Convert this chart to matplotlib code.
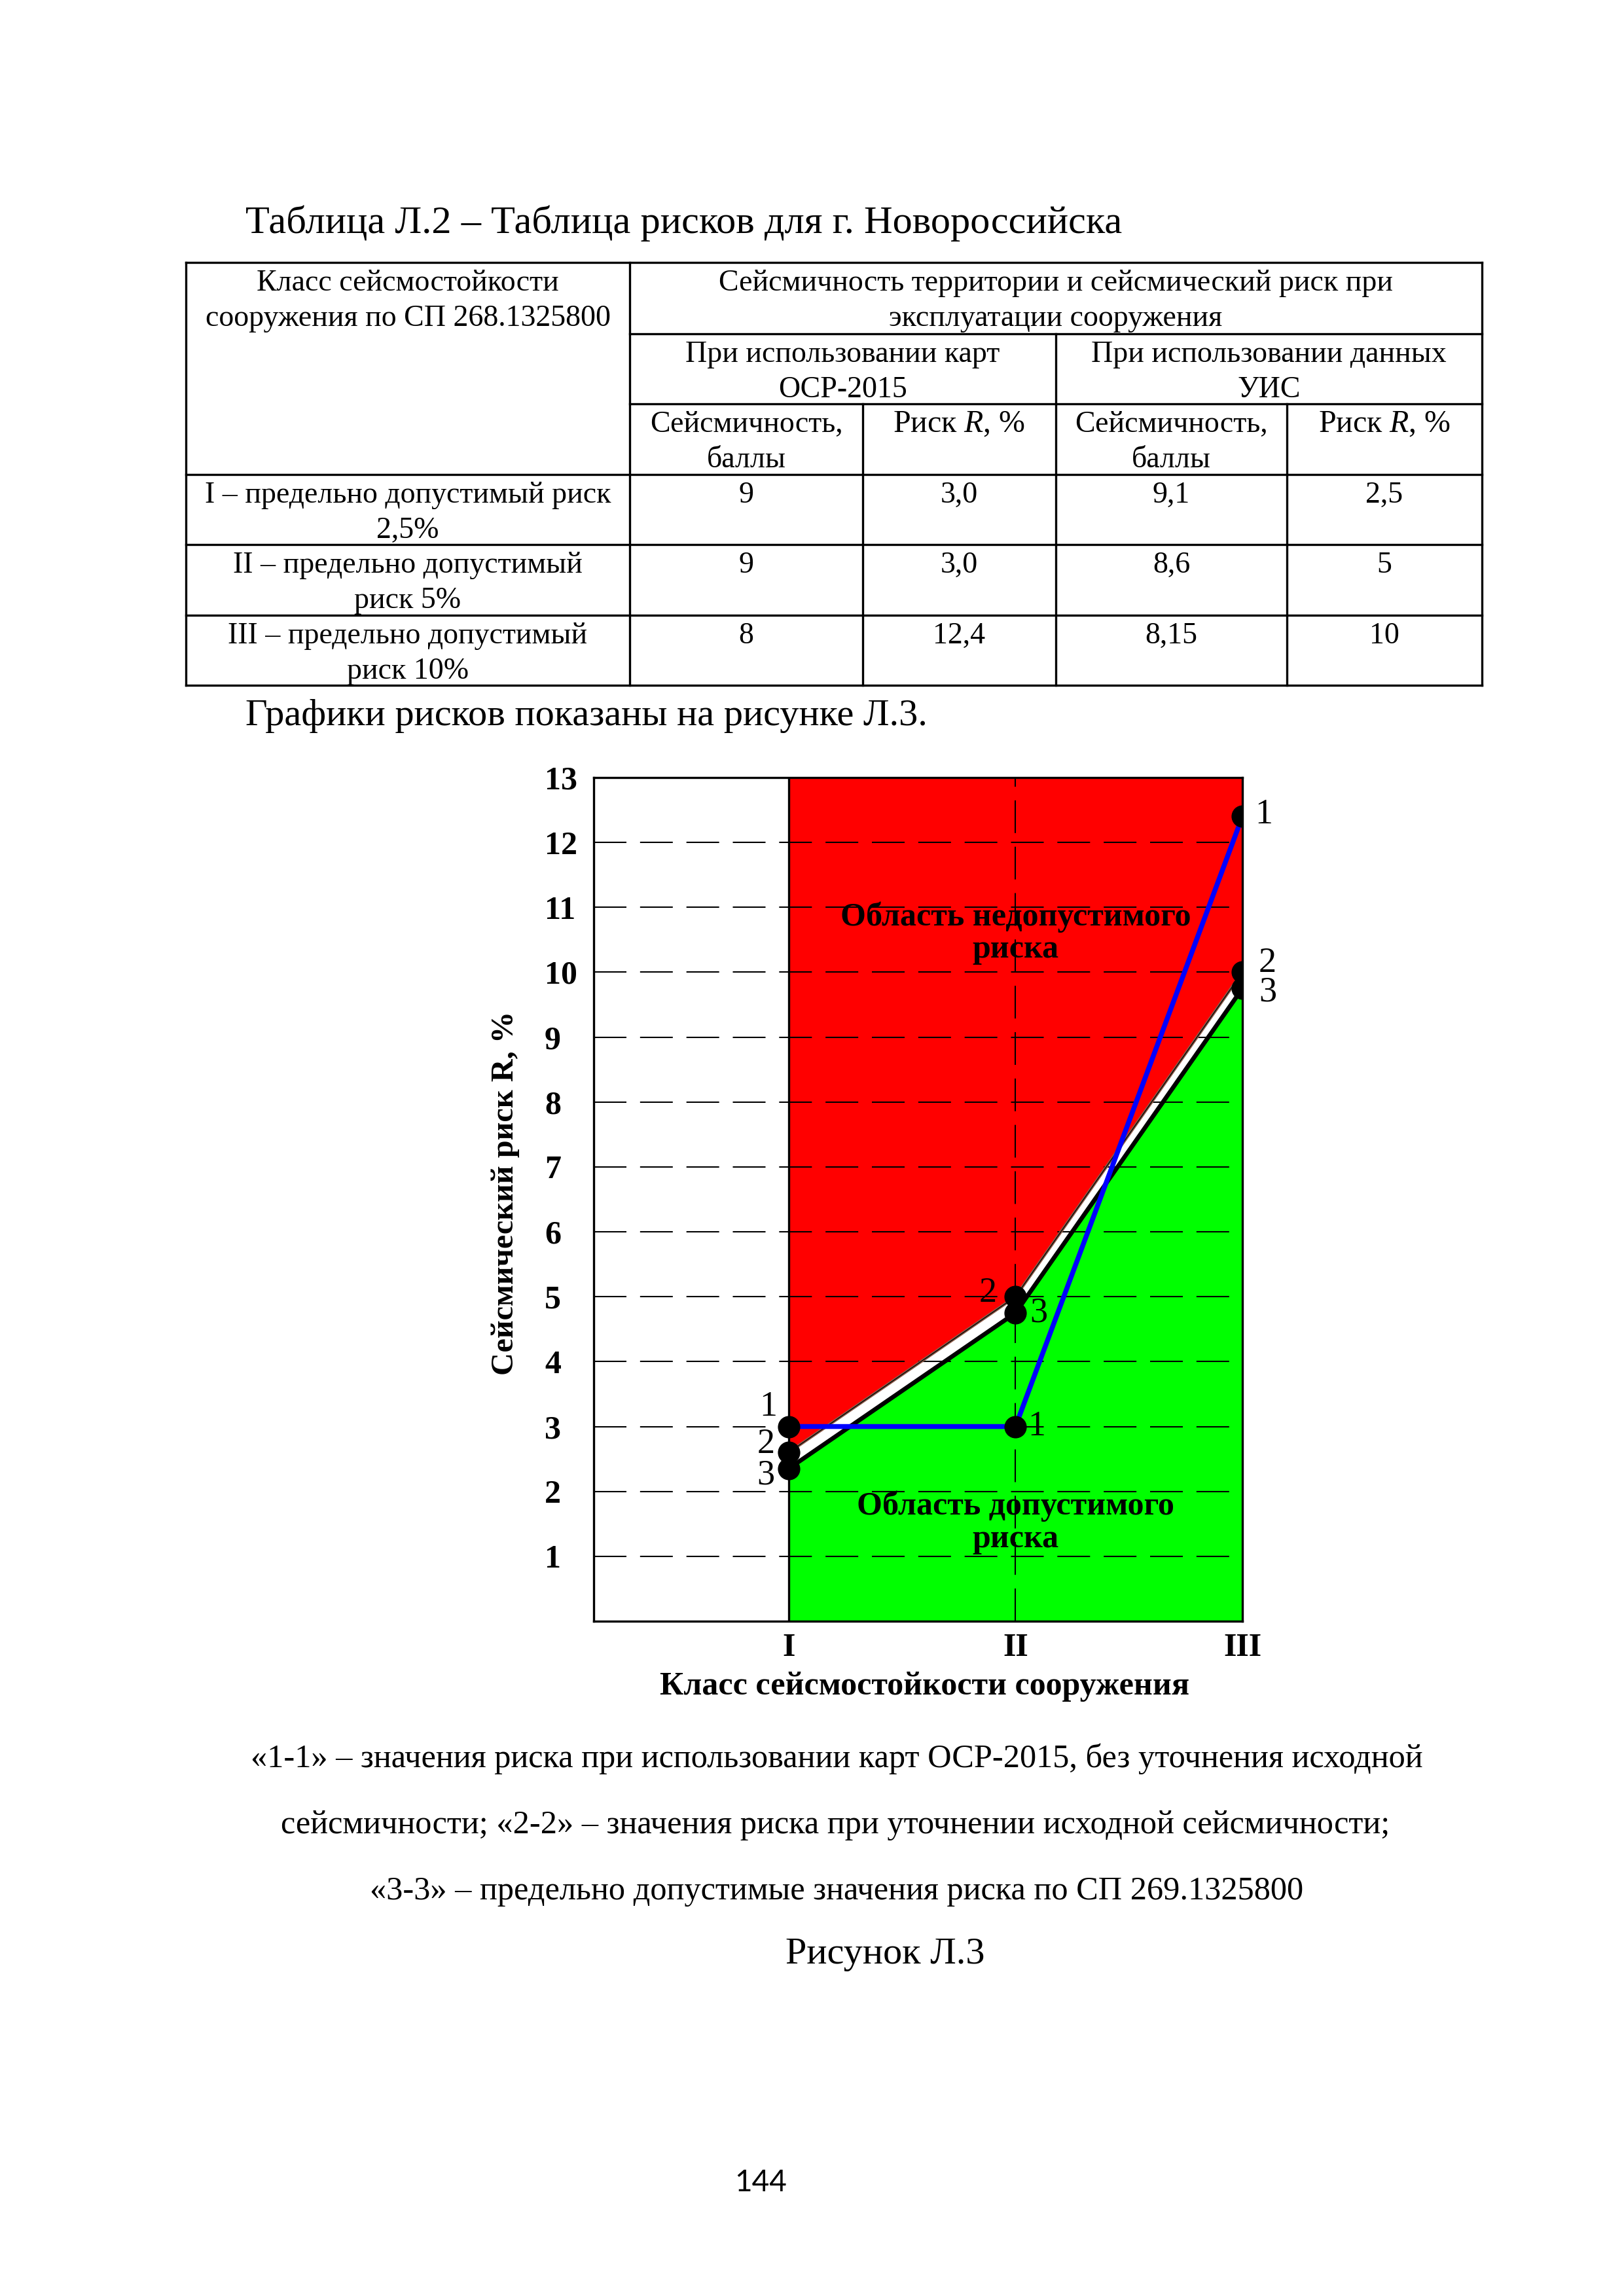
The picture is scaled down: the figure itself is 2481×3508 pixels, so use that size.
import matplotlib
matplotlib.use("Agg")
import matplotlib.pyplot as plt

plt.rcParams['font.family'] = ['Liberation Serif', 'DejaVu Serif']
plt.rcParams['mathtext.fontset'] = 'custom'
plt.rcParams['mathtext.it'] = 'Liberation Serif:italic'
plt.rcParams['mathtext.rm'] = 'Liberation Serif'

# ---------------- data ----------------
classes = ['I', 'II', 'III']
class_pos = [1, 2, 3]
risk_osr = [3.0, 3.0, 12.4]      # 1-1 : OSR-2015 maps
risk_uis = [2.6, 5.0, 10.0]      # 2-2 : refined seismicity
risk_limit = [2.35, 4.75, 9.75]  # 3-3 : allowable limit
y_ticks = list(range(1, 14))

table_row_names = [["I – предельно допустимый риск", "2,5%"],
                   ["II – предельно допустимый", "риск 5%"],
                   ["III – предельно допустимый", "риск 10%"]]
seis_osr = ["9", "9", "8"]
rsk_osr = ["3,0", "3,0", "12,4"]
seis_uis = ["9,1", "8,6", "8,15"]
rsk_uis = ["2,5", "5", "10"]

# ---------------- figure ----------------
W, H = 2481, 3508
fig = plt.figure(figsize=(W / 300, H / 300), dpi=300)
pax = fig.add_axes([0, 0, 1, 1])
pax.set_xlim(0, W)
pax.set_ylim(H, 0)
pax.axis('off')


def T(x, y, s, size=11, ha='center', va='baseline', **kw):
    pax.text(x, y, s, fontsize=size, ha=ha, va=va, **kw)


# title
T(375, 356, "Таблица Л.2 – Таблица рисков для г. Новороссийска", size=14.5, ha='left')

# table grid
tl, tr = 284, 2264
rows = [401, 510, 617, 725, 832, 940, 1047]
c1, c2, c3, c4 = 962, 1318, 1613, 1966
lw_t = 0.8
pax.plot([tl, tr], [rows[0], rows[0]], color='k', lw=lw_t)
pax.plot([c1, tr], [rows[1], rows[1]], color='k', lw=lw_t)
pax.plot([c1, tr], [rows[2], rows[2]], color='k', lw=lw_t)
for r in rows[3:]:
    pax.plot([tl, tr], [r, r], color='k', lw=lw_t)
pax.plot([tl, tl], [rows[0], rows[-1]], color='k', lw=lw_t)
pax.plot([tr, tr], [rows[0], rows[-1]], color='k', lw=lw_t)
pax.plot([c1, c1], [rows[0], rows[-1]], color='k', lw=lw_t)
pax.plot([c3, c3], [rows[1], rows[-1]], color='k', lw=lw_t)
pax.plot([c2, c2], [rows[2], rows[-1]], color='k', lw=lw_t)
pax.plot([c4, c4], [rows[2], rows[-1]], color='k', lw=lw_t)

L1, L2 = 43, 97


def cell(xc, top, lines, size=11):
    for i, s in enumerate(lines):
        T(xc, top + (L1 if i == 0 else L2), s, size=size)


cell((tl + c1) / 2, rows[0], ["Класс сейсмостойкости", "сооружения по СП 268.1325800"])
cell((c1 + tr) / 2, rows[0], ["Сейсмичность территории и сейсмический риск при",
                              "эксплуатации сооружения"])
cell((c1 + c3) / 2, rows[1], ["При использовании карт", "ОСР-2015"])
cell((c3 + tr) / 2, rows[1], ["При использовании данных", "УИС"])
cell((c1 + c2) / 2, rows[2], ["Сейсмичность,", "баллы"])
cell((c2 + c3) / 2, rows[2], ["Риск $R$, %"], size=11.5)
cell((c3 + c4) / 2, rows[2], ["Сейсмичность,", "баллы"])
cell((c4 + tr) / 2, rows[2], ["Риск $R$, %"], size=11.5)
for i in range(3):
    top = rows[3 + i]
    cell((tl + c1) / 2, top, table_row_names[i])
    cell((c1 + c2) / 2, top, [seis_osr[i]])
    cell((c2 + c3) / 2, top, [rsk_osr[i]])
    cell((c3 + c4) / 2, top, [seis_uis[i]])
    cell((c4 + tr) / 2, top, [rsk_uis[i]])

T(375, 1108, "Графики рисков показаны на рисунке Л.3.", size=14, ha='left')

# captions
T(1278, 2700, "«1-1» – значения риска при использовании карт ОСР-2015, без уточнения исходной", size=12.1)
T(1276, 2801, "сейсмичности; «2-2» – значения риска при уточнении исходной сейсмичности;", size=12.1)
T(1278, 2902, "«3-3» – предельно допустимые значения риска по СП 269.1325800", size=12.1)
T(1352, 3000, "Рисунок Л.3", size=14)
T(1162, 3335, "144", size=11, va='center', family=['Lato', 'DejaVu Sans'])

# ---------------- chart ----------------
ax_l, ax_r, ax_t, ax_b = 907, 1898, 1188, 2477
ax = fig.add_axes([ax_l / W, 1 - ax_b / H, (ax_r - ax_l) / W, (ax_b - ax_t) / H])
ax.set_xlim(1 - 298 / 347, 3)
ax.set_ylim(0, 13)
ax.set_facecolor('white')

ax.fill_between(class_pos, risk_uis, 13, color='#ff0000', lw=0, zorder=1)
ax.fill_between(class_pos, 0, risk_limit, color='#00ff00', lw=0, zorder=1)

dash = (0, (24, 10))
for yv in y_ticks[:-1]:
    ax.axhline(yv, color='k', lw=0.5, ls=dash, zorder=1.5)
ax.axvline(class_pos[1], color='k', lw=0.5, ls=dash, zorder=1.5)
ax.axvline(class_pos[0], color='k', lw=0.8, zorder=1.6)

ax.plot(class_pos, risk_uis, color='#8c5a48', lw=1.1, zorder=3)
ax.plot(class_pos, risk_uis, color='k', lw=0.3, zorder=3.1)
ax.plot(class_pos, risk_limit, color='k', lw=1.6, zorder=3)
ax.plot(class_pos, risk_osr, color='#0000ff', lw=1.8, zorder=4)
for ser in (risk_osr, risk_uis, risk_limit):
    ax.plot(class_pos, ser, ls='none', marker='o', ms=7.2, color='k', zorder=5)

# point labels (layout offsets, points)
offs = {
    (0, 0): (-7.4, 7.2), (1, 0): (-8.2, 2.9), (2, 0): (-8.4, -2.4),
    (0, 1): (7.7, 0.0), (1, 1): (-10.1, 1.4), (2, 1): (8.4, 0.0),
    (0, 2): (7.9, 0.7), (1, 2): (9.1, 3.4), (2, 2): (9.4, -1.5),
}
series = [risk_osr, risk_uis, risk_limit]
for si, ser in enumerate(series):
    for ci, xv in enumerate(class_pos):
        ax.annotate(str(si + 1), (xv, ser[ci]), xytext=offs[(si, ci)],
                    textcoords='offset points', ha='center', va='center',
                    fontsize=13, zorder=6, annotation_clip=False)

ax.text(class_pos[1], 10.6, "Область недопустимого\nриска", ha='center', va='center',
        fontsize=12, fontweight='bold', linespacing=1.1, zorder=6)
ax.text(class_pos[1], 1.52, "Область допустимого\nриска", ha='center', va='center',
        fontsize=12, fontweight='bold', linespacing=1.1, zorder=6)

for sp in ax.spines.values():
    sp.set_linewidth(0.8)
    sp.set_zorder(7)

ax.set_yticks(y_ticks)
ax.set_yticklabels([str(v) for v in y_ticks])
ax.set_xticks(class_pos)
ax.set_xticklabels(classes)
ax.tick_params(axis='y', length=0, pad=18, labelsize=12)
ax.tick_params(axis='x', length=0, pad=4.3, labelsize=12)
for lab in ax.get_yticklabels():
    lab.set_ha('left')
    lab.set_fontweight('bold')
for lab in ax.get_xticklabels():
    lab.set_fontweight('bold')

ax.set_xlabel("Класс сейсмостойкости сооружения", fontsize=12, fontweight='bold')
ax.xaxis.set_label_coords((1413 - ax_l) / (ax_r - ax_l), -(2577 - ax_b) / (ax_b - ax_t))
ax.xaxis.label.set_va('center')
ax.set_ylabel("Сейсмический риск R, %", fontsize=11.6, fontweight='bold')
ax.yaxis.set_label_coords((772 - ax_l) / (ax_r - ax_l), (ax_b - 1823) / (ax_b - ax_t))
ax.yaxis.label.set_va('center')

fig.savefig("out.png", dpi=300)
